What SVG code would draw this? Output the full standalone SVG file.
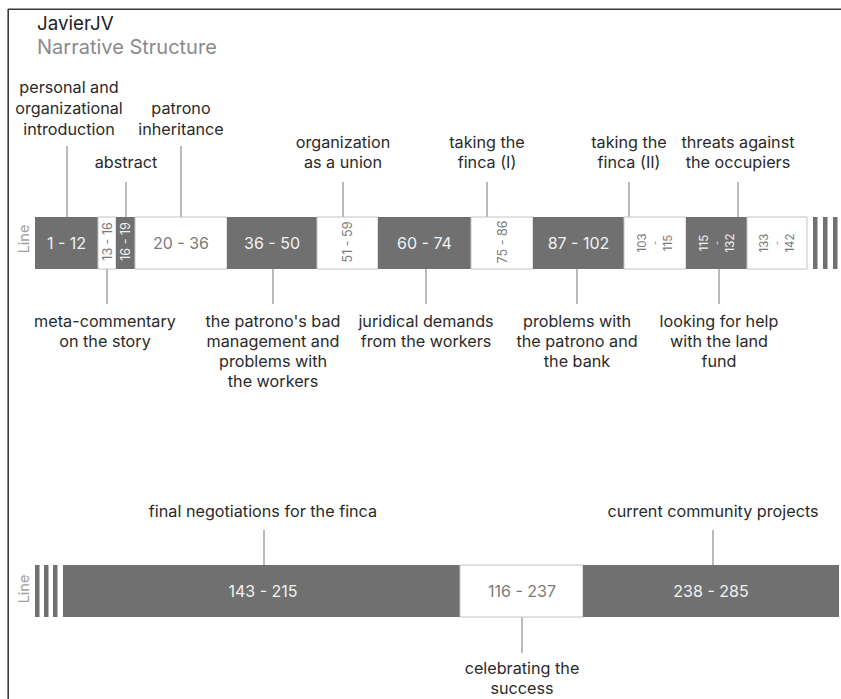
<svg xmlns="http://www.w3.org/2000/svg" width="841" height="699" viewBox="0 0 841 699">
  <defs>
    <style>
      text { font-family: Inter, "Open Sans", "DejaVu Sans", sans-serif; }
      .t1 { font-size: 18.8px; fill: #222; }
      .t2 { font-size: 20px; fill: #8a8a8a; }
      .lbl { font-size: 16.2px; fill: #2a2a2a; text-anchor: middle; }
      .axis { font-size: 14.5px; fill: #a0a0a0; text-anchor: middle; }
      .dark { fill: #707070; }
      .light { fill: #ffffff; stroke: #c4c4c4; stroke-width: 1; }
      .tdark { font-size: 16px; fill: #f2f2f2; text-anchor: middle; }
      .tlight { font-size: 16px; fill: #7a7a7a; text-anchor: middle; }
      .sdark { font-size: 12.5px; fill: #f2f2f2; text-anchor: middle; }
      .slight { font-size: 12.5px; fill: #7a7a7a; text-anchor: middle; }
      .cdark { font-size: 11.5px; fill: #f2f2f2; text-anchor: middle; }
      .clight { font-size: 11.5px; fill: #7a7a7a; text-anchor: middle; }
      .dash { font-size: 9px; text-anchor: middle; }
      .conn line { stroke: #8c8c8c; stroke-width: 1.2; }
    </style>
    <clipPath id="frameClip">
      <rect x="9" y="10" width="832" height="689"/>
    </clipPath>
  </defs>
  <rect width="841" height="699" fill="#ffffff"/>

  <g clip-path="url(#frameClip)">
    <!-- heading -->
    <g id="heading">
      <text class="t1" x="37" y="30">JavierJV</text>
      <text class="t2" x="37" y="54">Narrative Structure</text>
    </g>

    <!-- connectors -->
    <g id="connectors" class="conn">
      <line x1="67" y1="146" x2="67" y2="217"/>
      <line x1="126" y1="182" x2="126" y2="217"/>
      <line x1="181" y1="146" x2="181" y2="217"/>
      <line x1="343" y1="182" x2="343" y2="217"/>
      <line x1="487" y1="182" x2="487" y2="217"/>
      <line x1="629" y1="182" x2="629" y2="217"/>
      <line x1="738" y1="182" x2="738" y2="217"/>
      <line x1="107" y1="269" x2="107" y2="304"/>
      <line x1="273" y1="269" x2="273" y2="304"/>
      <line x1="426" y1="269" x2="426" y2="304"/>
      <line x1="577" y1="269" x2="577" y2="304"/>
      <line x1="719" y1="269" x2="719" y2="304"/>
      <line x1="264" y1="530" x2="264" y2="565"/>
      <line x1="713" y1="530" x2="713" y2="565"/>
      <line x1="522" y1="617" x2="522" y2="653"/>
    </g>

    <!-- first line: segments 1 - 142 -->
    <g id="line1">
      <text class="axis" transform="translate(29 239) rotate(-90)">Line</text>
      <g id="seg-1-12"><rect class="dark" x="35" y="217" width="63" height="52"/><text class="tdark" x="66.5" y="248.5">1 - 12</text></g>
      <g id="seg-13-16"><rect class="light" x="98" y="217" width="18" height="52"/><text class="slight" transform="translate(111.5 241.5) rotate(-90)">13 - 16</text></g>
      <g id="seg-16-19"><rect class="dark" x="116" y="217" width="19" height="52"/><text class="sdark" transform="translate(130 241.5) rotate(-90)">16 - 19</text></g>
      <g id="seg-20-36"><rect class="light" x="135" y="217" width="92" height="52"/><text class="tlight" x="181" y="248.5">20 - 36</text></g>
      <g id="seg-36-50"><rect class="dark" x="227" y="217" width="90" height="52"/><text class="tdark" x="272" y="248.5">36 - 50</text></g>
      <g id="seg-51-59"><rect class="light" x="317" y="217" width="61" height="52"/><text class="slight" transform="translate(352 242) rotate(-90)">51 - 59</text></g>
      <g id="seg-60-74"><rect class="dark" x="378" y="217" width="93" height="52"/><text class="tdark" x="424.5" y="248.5">60 - 74</text></g>
      <g id="seg-75-86"><rect class="light" x="471" y="217" width="62" height="52"/><text class="slight" transform="translate(506.5 242) rotate(-90)">75 - 86</text></g>
      <g id="seg-87-102"><rect class="dark" x="533" y="217" width="91" height="52"/><text class="tdark" x="578.5" y="248.5">87 - 102</text></g>
      <!-- narrow segments: the range wraps into three rotated columns -->
      <g id="seg-103-115"><rect class="light" x="624" y="217" width="62" height="52"/>
        <text class="clight" transform="translate(646 243) rotate(-90)">103</text>
        <text class="clight dash" transform="translate(658.1 243) rotate(-90)">-</text>
        <text class="clight" transform="translate(672 243) rotate(-90)">115</text>
      </g>
      <g id="seg-115-132"><rect class="dark" x="686" y="217" width="61" height="52"/>
        <text class="cdark" transform="translate(707.5 243) rotate(-90)">115</text>
        <text class="cdark dash" transform="translate(719.6 243) rotate(-90)">-</text>
        <text class="cdark" transform="translate(733.5 243) rotate(-90)">132</text>
      </g>
      <g id="seg-133-142"><rect class="light" x="747" y="217" width="60" height="52"/>
        <text class="clight" transform="translate(768 243) rotate(-90)">133</text>
        <text class="clight dash" transform="translate(780.1 243) rotate(-90)">-</text>
        <text class="clight" transform="translate(794 243) rotate(-90)">142</text>
      </g>
      <g id="break1">
        <rect class="dark" x="813" y="217" width="4.5" height="52"/>
        <rect class="dark" x="823" y="217" width="4.5" height="52"/>
        <rect class="dark" x="833" y="217" width="4.5" height="52"/>
      </g>
    </g>

    <!-- labels above the first line -->
    <g id="lbl-intro"><text class="lbl" x="69" y="93">personal and</text><text class="lbl" x="69" y="114">organizational</text><text class="lbl" x="69" y="135">introduction</text></g>
    <g id="lbl-abstract"><text class="lbl" x="126" y="168">abstract</text></g>
    <g id="lbl-inheritance"><text class="lbl" x="181" y="114">patrono</text><text class="lbl" x="181" y="135">inheritance</text></g>
    <g id="lbl-union"><text class="lbl" x="343" y="148">organization</text><text class="lbl" x="343" y="168">as a union</text></g>
    <g id="lbl-finca1"><text class="lbl" x="487" y="148">taking the</text><text class="lbl" x="487" y="168">finca (I)</text></g>
    <g id="lbl-finca2"><text class="lbl" x="629" y="148">taking the</text><text class="lbl" x="629" y="168">finca (II)</text></g>
    <g id="lbl-threats"><text class="lbl" x="738" y="148">threats against</text><text class="lbl" x="738" y="168">the occupiers</text></g>

    <!-- labels below the first line -->
    <g id="lbl-meta"><text class="lbl" x="105" y="327">meta-commentary</text><text class="lbl" x="105" y="347">on the story</text></g>
    <g id="lbl-bad"><text class="lbl" x="273" y="327">the patrono's bad</text><text class="lbl" x="273" y="347">management and</text><text class="lbl" x="273" y="367">problems with</text><text class="lbl" x="273" y="387">the workers</text></g>
    <g id="lbl-juridical"><text class="lbl" x="426" y="327">juridical demands</text><text class="lbl" x="426" y="347">from the workers</text></g>
    <g id="lbl-bank"><text class="lbl" x="577" y="327">problems with</text><text class="lbl" x="577" y="347">the patrono and</text><text class="lbl" x="577" y="367">the bank</text></g>
    <g id="lbl-landfund"><text class="lbl" x="719" y="327">looking for help</text><text class="lbl" x="719" y="347">with the land</text><text class="lbl" x="719" y="367">fund</text></g>

    <!-- second line: segments 143 - 285 -->
    <g id="line2">
      <text class="axis" transform="translate(29 589) rotate(-90)">Line</text>
      <g id="break2">
        <rect class="dark" x="35" y="565" width="4.5" height="52"/>
        <rect class="dark" x="44" y="565" width="4.5" height="52"/>
        <rect class="dark" x="53" y="565" width="4.5" height="52"/>
      </g>
      <g id="seg-143-215"><rect class="dark" x="63" y="565" width="397" height="52"/><text class="tdark" x="263" y="596.5">143 - 215</text></g>
      <g id="seg-116-237"><rect class="light" x="460" y="565" width="123" height="52"/><text class="tlight" x="522" y="596.5">116 - 237</text></g>
      <g id="seg-238-285"><rect class="dark" x="583" y="565" width="256" height="52"/><text class="tdark" x="711" y="596.5">238 - 285</text></g>
    </g>

    <g id="lbl-negotiations"><text class="lbl" x="263" y="517">final negotiations for the finca</text></g>
    <g id="lbl-projects"><text class="lbl" x="713" y="517">current community projects</text></g>
    <g id="lbl-success"><text class="lbl" x="522" y="674">celebrating the</text><text class="lbl" x="522" y="694">success</text></g>
  </g>

  <!-- frame -->
  <g id="frame" stroke="#3a3a3a" stroke-width="1.6" fill="none">
    <line x1="8" y1="9.2" x2="841" y2="9.2"/>
    <line x1="8.2" y1="9" x2="8.2" y2="699"/>
  </g>
</svg>
